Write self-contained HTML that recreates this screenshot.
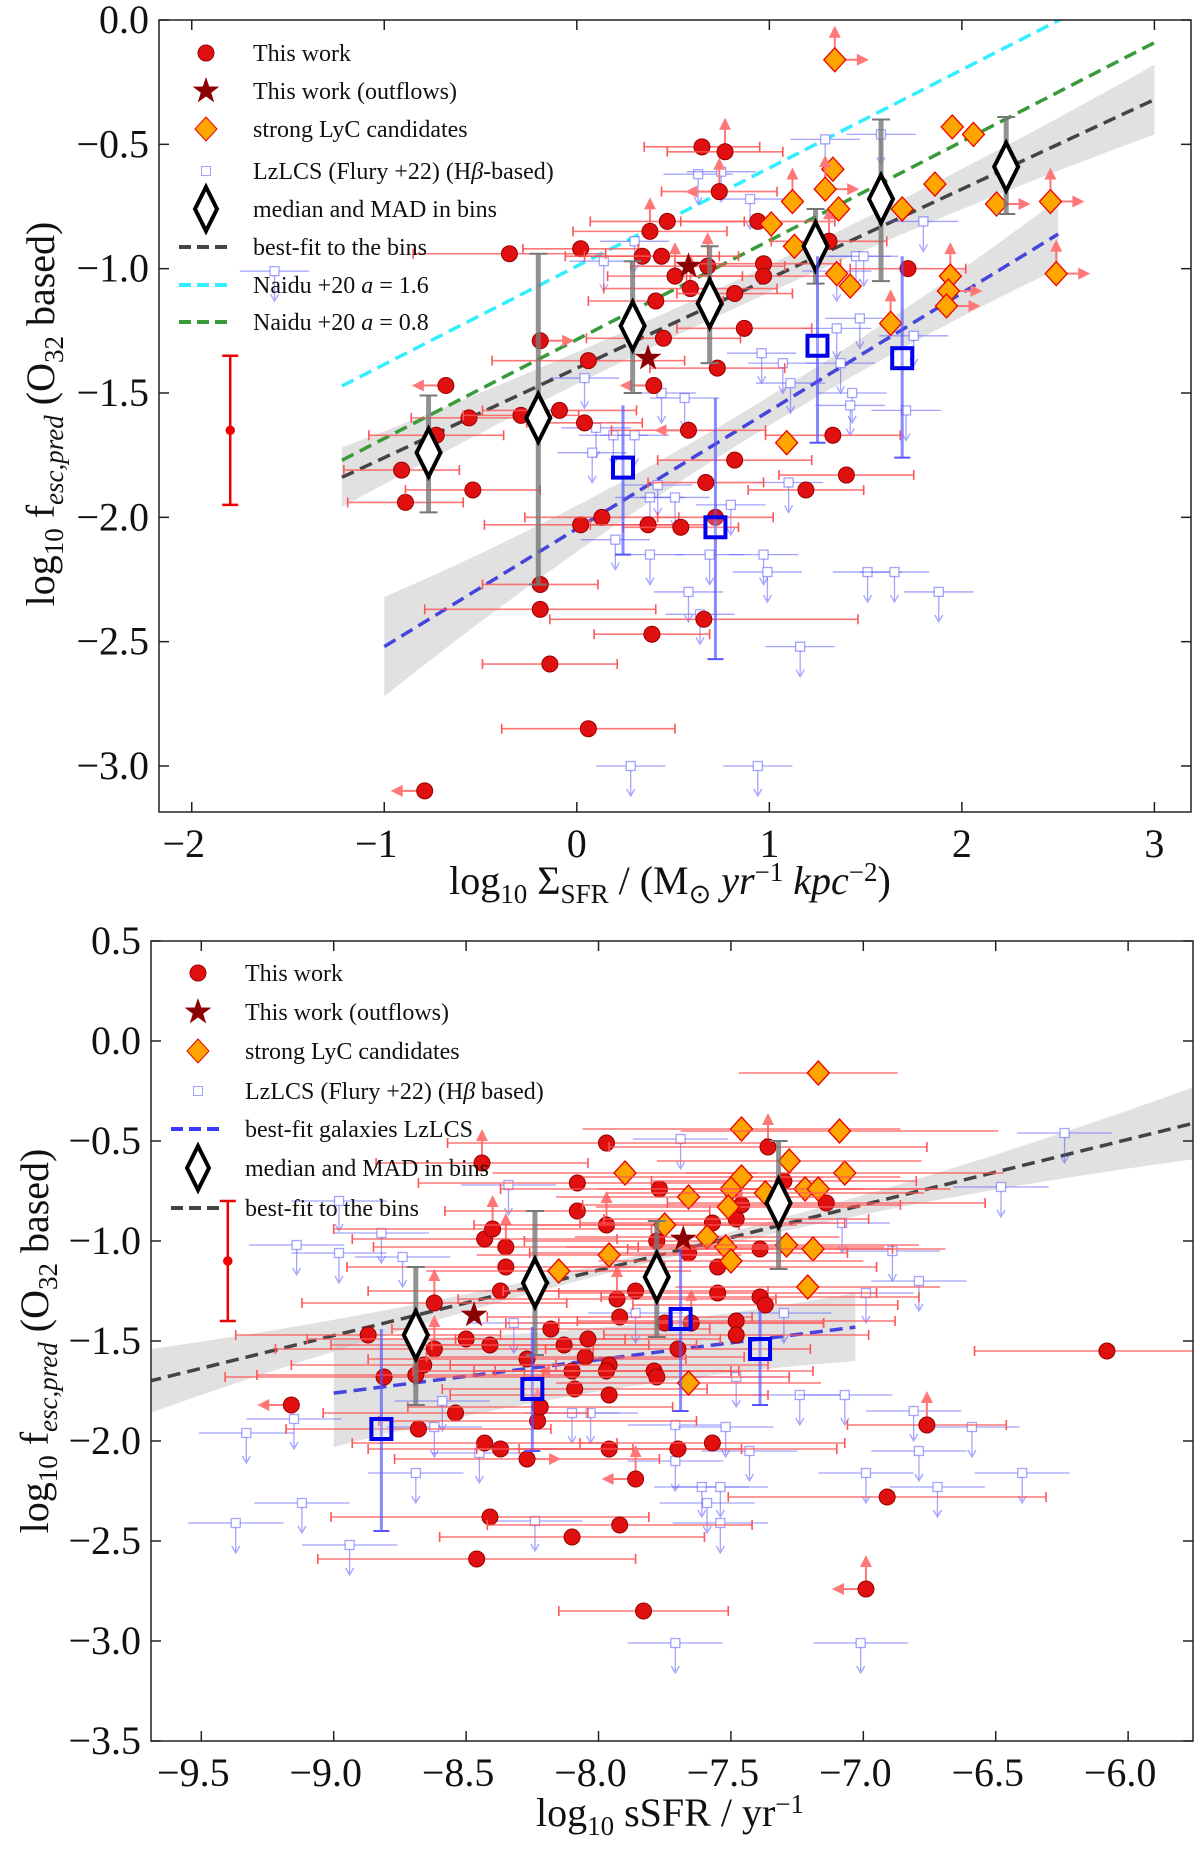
<!DOCTYPE html>
<html><head><meta charset="utf-8"><style>
html,body{margin:0;padding:0;background:#fff}
svg{display:block}
text{font-family:"Liberation Serif",serif;fill:#111}
</style></head><body>
<svg id="fig" width="1200" height="1854" viewBox="0 0 1200 1854" xmlns="http://www.w3.org/2000/svg"></svg>
<script>
// ===== TOP PANEL DATA =====
const topRedX=[-0.91,-0.89,-0.68,-0.54,-0.56,-0.73,-0.79,-0.35,-0.29,-0.19,-0.09,-0.19,-0.19,-0.14,0.02,0.06,0.04,0.02,0.13,0.06,0.38,0.47,0.34,0.44,0.51,0.59,0.41,0.45,0.40,0.37,0.54,0.58,0.65,0.77,0.74,0.68,0.82,0.87,0.73,0.82,0.67,0.72,0.66,0.39,0.94,0.97,0.97,1.31,1.72,1.33,1.40,1.19];
const topRedY=[-1.81,-1.94,-1.47,-1.89,-1.60,-1.67,-3.10,-0.94,-1.59,-1.29,-1.57,-2.27,-2.37,-2.59,-0.92,-1.37,-1.62,-2.03,-2.00,-2.85,-0.85,-0.81,-0.95,-0.95,-1.03,-1.08,-1.13,-1.28,-1.47,-2.03,-2.04,-1.65,-0.51,-0.53,-0.69,-0.99,-1.10,-1.24,-1.40,-1.77,-1.86,-2.00,-2.41,-2.47,-0.81,-0.98,-1.03,-0.89,-1.00,-1.67,-1.83,-1.89];
const topRedXerr=[0.3,0.3,0,0.35,0.3,0.35,0,0.5,0.3,0,0.4,0.3,0.6,0.35,0.3,0.5,0.3,0.5,0.4,0.45,0.4,0.4,0.4,0.4,0.35,0.45,0.35,0.4,0,0.3,0.3,0.4,0.3,0.3,0.3,0.4,0.3,0.35,0.35,0.4,0.3,0.3,0.8,0.3,0.4,0.4,0.4,0.3,0.3,0.35,0.35,0.3];
const topRedFlag=['','','l','','','','l','','','r','','','','','','','','','','','u','','','','u','u','','','l','','','l','','u','ul','u','','','','','','','','','','','','u','','','','',''];
const topStarX=[0.58,0.37];
const topStarY=[-0.99,-1.36];
const topCandX=[1.34,1.95,2.06,1.33,1.12,1.29,1.36,1.01,1.86,1.69,2.18,2.46,1.13,1.35,1.42,1.94,1.93,1.92,2.49,1.63,1.09];
const topCandY=[-0.16,-0.43,-0.46,-0.60,-0.73,-0.68,-0.76,-0.82,-0.66,-0.76,-0.74,-0.73,-0.91,-1.02,-1.07,-1.03,-1.09,-1.15,-1.02,-1.22,-1.70];
const topCandFlag=['ur','','','','u','ur','','','','','r','ur','','','','u','r','r','ur','u',''];
const topLzX=[-1.57,0.14,0.30,0.63,0.75,0.90,1.29,1.58,1.80,1.45,1.49,1.35,1.47,1.35,1.75,1.37,1.07,0.96,1.11,1.43,1.42,1.71,0.56,0.44,0.04,0.10,0.19,0.30,0.08,0.42,0.38,0.51,0.80,1.10,0.20,0.38,0.69,0.97,0.99,1.51,1.65,1.88,0.58,1.16,0.28,0.94,0.64];
const topLzY=[-1.01,-0.97,-0.89,-0.62,-0.61,-0.72,-0.48,-0.46,-0.81,-0.95,-0.95,-1.01,-1.20,-1.24,-1.27,-1.38,-1.38,-1.34,-1.46,-1.50,-1.55,-1.57,-1.52,-1.50,-1.44,-1.64,-1.67,-1.67,-1.74,-1.87,-1.92,-1.92,-1.95,-1.86,-2.09,-2.15,-2.15,-2.15,-2.22,-2.22,-2.22,-2.30,-2.30,-2.52,-3.00,-3.00,-2.39];
const topBinX=[-0.77,-0.20,0.29,0.69,1.24,1.58,2.23];
const topBinY=[-1.74,-1.60,-1.23,-1.14,-0.91,-0.72,-0.59];
const topBinLo=[-1.98,-2.27,-1.50,-1.38,-1.06,-1.05,-0.78];
const topBinHi=[-1.51,-0.94,-0.97,-0.91,-0.76,-0.40,-0.39];
const topSqX=[0.24,0.72,1.25,1.69];
const topSqY=[-1.80,-2.04,-1.31,-1.36];
const topSqLo=[-2.15,-2.57,-1.70,-1.76];
const topSqHi=[-1.55,-1.52,-0.95,-0.95];
const topFitBins=[0.36,-1.40];
const topFitLz=[0.474,-2.046];
const topNaidu16=[0.395,-0.99];
const topNaidu08=[0.398,-1.285];
const topXTicks=[-2,-1,0,1,2,3];
const topYTicks=[0.0,-0.5,-1.0,-1.5,-2.0,-2.5,-3.0];

// ===== BOTTOM PANEL DATA =====
const botRedX=[-9.16,-8.87,-8.81,-8.68,-8.69,-8.66,-8.62,-8.62,-8.54,-8.50,-8.43,-8.37,-8.41,-8.37,-8.35,-8.35,-8.43,-8.40,-8.44,-8.27,-8.27,-8.23,-8.22,-8.18,-8.13,-8.10,-8.09,-8.08,-8.08,-8.05,-8.04,-7.97,-7.97,-7.96,-7.97,-7.96,-7.96,-7.93,-7.92,-7.86,-7.79,-7.78,-7.77,-7.78,-7.75,-7.70,-7.70,-7.65,-7.66,-7.57,-7.55,-7.57,-7.55,-7.48,-7.48,-7.48,-7.46,-7.39,-7.39,-7.37,-7.36,-7.30,-7.14,-6.76,-6.91,-6.99,-6.08,-8.41,-8.46,-8.10,-7.92,-7.83,-7.86];
const botRedY=[-1.82,-1.47,-1.68,-1.94,-1.67,-1.62,-1.54,-1.31,-1.86,-1.49,-2.01,-2.04,-1.52,-1.25,-1.13,-1.03,-0.99,-0.94,-0.61,-1.59,-2.09,-1.90,-1.83,-1.44,-1.52,-1.65,-1.74,-0.71,-0.85,-1.58,-1.49,-0.51,-0.92,-1.62,-1.65,-1.77,-2.04,-1.29,-1.38,-1.25,-1.65,-1.68,-0.74,-1.00,-1.41,-1.54,-2.04,-1.41,-1.06,-0.91,-1.26,-2.01,-1.13,-0.89,-1.40,-1.47,-0.82,-1.04,-1.28,-1.32,-0.53,-0.70,-0.81,-1.92,-2.28,-2.74,-1.55,-2.38,-2.59,-2.48,-2.42,-2.85,-2.19];
const botRedXerr=[0,0.5,0.6,0.5,0.6,0.5,0.6,0.5,0.5,0.6,0.5,0.5,0.6,0.5,0.6,0.5,0.5,0.6,0.4,0.6,0.5,0.6,0.5,0.6,0.5,0.6,0.5,0.6,0.5,0.6,0.5,0.6,0.5,0.6,0.5,0.6,0.5,0.6,0.5,0.5,0.6,0.5,0.6,0.5,0.6,0.5,0.6,0.5,0.6,0.5,0.6,0.5,0.6,0.5,0.6,0.5,0.6,0.5,0.6,0.5,0.6,0.5,0.6,0.3,0.6,0,0.5,0.6,0.6,0.5,0.5,0.32,0];
const botRedFlag=['l','','','','','','u','u','','','','','','','','u','','u','u','','r','u','','','','l','','','','','','','u','','','','','u','','','','','','','','','','u','','','','','','u','','','u','','','','u','','','u','','ul','','','','','','','ul'];
const botStarX=[-8.47,-7.68];
const botStarY=[-1.37,-0.99];
const botCandX=[-7.17,-7.46,-7.09,-7.90,-7.07,-7.28,-7.46,-7.50,-7.22,-7.17,-7.66,-7.37,-7.51,-7.75,-7.59,-7.52,-7.29,-7.19,-7.96,-7.50,-8.15,-7.21,-7.66];
const botCandY=[-0.16,-0.44,-0.45,-0.66,-0.66,-0.60,-0.68,-0.74,-0.74,-0.74,-0.78,-0.76,-0.83,-0.92,-0.98,-1.03,-1.02,-1.04,-1.07,-1.10,-1.15,-1.23,-1.71];
const botCandXerr=[0.3,0.6,0.6,0.5,0.6,0.5,0.6,0.5,0.5,0.5,0.5,0.6,0.5,0.5,0.5,0.6,0.5,0.5,0.5,0.5,0.5,0.5,0.5];
const botLzX=[-9.14,-8.98,-8.98,-8.82,-8.74,-9.33,-9.37,-9.12,-8.94,-9.15,-8.69,-8.59,-8.62,-8.45,-8.34,-8.24,-8.10,-8.03,-7.86,-7.71,-7.71,-7.61,-7.59,-7.54,-7.54,-7.52,-7.43,-7.48,-7.30,-7.24,-7.07,-6.99,-6.99,-7.08,-6.89,-6.79,-6.81,-6.79,-6.72,-6.59,-6.40,-6.48,-6.24,-7.71,-7.01,-7.69,-8.32];
const botLzY=[-1.02,-1.06,-0.80,-0.96,-1.08,-1.96,-2.41,-2.31,-2.52,-1.89,-2.16,-1.80,-1.93,-2.06,-0.72,-2.40,-1.86,-1.86,-1.36,-2.10,-1.92,-2.23,-2.31,-2.23,-2.41,-1.93,-2.05,-1.68,-1.36,-1.77,-1.77,-2.16,-1.26,-0.91,-1.05,-1.20,-1.85,-2.05,-2.23,-1.93,-2.16,-0.73,-0.46,-3.01,-3.01,-0.49,-1.41];
const botBinX=[-8.69,-8.24,-7.78,-7.32];
const botBinY=[-1.47,-1.21,-1.18,-0.81];
const botBinLo=[-1.82,-1.57,-1.48,-1.14];
const botBinHi=[-1.13,-0.85,-0.90,-0.50];
const botSqX=[-8.82,-8.25,-7.69,-7.39];
const botSqY=[-1.94,-1.74,-1.39,-1.54];
const botSqLo=[-2.45,-2.05,-1.85,-1.82];
const botSqHi=[-1.44,-1.43,-1.04,-1.35];
const botFitBins=[0.327,1.47];
const botFitLz=[0.1675,-0.253];
const botXTicks=[-9.5,-9.0,-8.5,-8.0,-7.5,-7.0,-6.5,-6.0];
const botYTicks=[0.5,0.0,-0.5,-1.0,-1.5,-2.0,-2.5,-3.0,-3.5];

const NS="http://www.w3.org/2000/svg";
const svg=document.getElementById('fig');
function mk(tag,at,par){const e=document.createElementNS(NS,tag);for(const k in at)e.setAttribute(k,at[k]);(par||svg).appendChild(e);return e;}
function fmt(v){return (v<0?'\u2212':'')+Math.abs(v).toFixed(1);}

function panel(P){
  const g=mk('g',{});
  
  
  const X=v=>P.L+(v-P.x0)/(P.x1-P.x0)*(P.R-P.L);
  const Y=v=>P.T+(P.y0-v)/(P.y0-P.y1)*(P.B-P.T);
  const cp=mk('clipPath',{id:'cp'+P.id},g);
  mk('rect',{x:P.L,y:P.T,width:P.R-P.L,height:P.B-P.T},cp);
  const pg=mk('g',{'clip-path':'url(#cp'+P.id+')'},g);
  P.bands.forEach((b,i)=>{
    const [xa,xm,xb,f,wa,wm,wb]=b;
    const upper=[],lower=[];
    for(let k=0;k<=20;k++){const x=xa+(xb-xa)*k/20;const t=k/20;
      const w=(1-t)*(1-t)*wa+2*t*(1-t)*wm+t*t*wb;const y=f[0]*x+f[1];
      upper.push(X(x)+','+Y(y+w));lower.unshift(X(x)+','+Y(y-w));}
    const p=mk('polygon',{points:upper.concat(lower).join(' '),fill:'#bdbdbd','fill-opacity':0.45},pg);
    
    
  });
  P.lines.forEach(l=>{
    const [f,xa,xb,col,nm]=l;
    const e=mk('line',{x1:X(xa),y1:Y(f[0]*xa+f[1]),x2:X(xb),y2:Y(f[0]*xb+f[1]),stroke:col,'stroke-width':3.5,'stroke-dasharray':'13,7'},pg);
    
    
  });
  P.lzX.forEach((x,i)=>{
    const y=P.lzY[i];const cx=X(x),cy=Y(y);const gg=mk('g',{stroke:'#5a5aff','stroke-opacity':0.55,fill:'none','stroke-width':1.3},pg);
    
    
    const dx=(P.R-P.L)/(P.x1-P.x0)*0.18;
    mk('line',{x1:cx-dx,y1:cy,x2:cx+dx,y2:cy},gg);
    mk('line',{x1:cx,y1:cy,x2:cx,y2:cy+28},gg);
    mk('path',{d:`M${cx-4},${cy+23} L${cx},${cy+30} L${cx+4},${cy+23}`},gg);
    mk('rect',{x:cx-4.5,y:cy-4.5,width:9,height:9,fill:'#fff'},gg);
  });
  const pxu=(P.R-P.L)/(P.x1-P.x0);
  function arrows(gg,cx,cy,flag,col){
    if(!flag)return;
    if(flag.includes('u')){mk('line',{x1:cx,y1:cy,x2:cx,y2:cy-24,stroke:col,'stroke-width':2},gg);mk('polygon',{points:`${cx-6},${cy-22} ${cx+6},${cy-22} ${cx},${cy-34}`,fill:col},gg);}
    if(flag.includes('l')){mk('line',{x1:cx,y1:cy,x2:cx-24,y2:cy,stroke:col,'stroke-width':2},gg);mk('polygon',{points:`${cx-22},${cy-6} ${cx-22},${cy+6} ${cx-34},${cy}`,fill:col},gg);}
    if(flag.includes('r')){mk('line',{x1:cx,y1:cy,x2:cx+24,y2:cy,stroke:col,'stroke-width':2},gg);mk('polygon',{points:`${cx+22},${cy-6} ${cx+22},${cy+6} ${cx+34},${cy}`,fill:col},gg);}
  }
  P.redX.forEach((x,i)=>{
    const y=P.redY[i];const cx=X(x),cy=Y(y);const gg=mk('g',{},pg);
    
    
    const e=P.redXerr[i]*pxu;
    if(e>0){mk('line',{x1:cx-e,y1:cy,x2:cx+e,y2:cy,stroke:'#f55','stroke-opacity':0.8,'stroke-width':1.6},gg);
      mk('line',{x1:cx-e,y1:cy-5,x2:cx-e,y2:cy+5,stroke:'#f55','stroke-width':1.6},gg);
      mk('line',{x1:cx+e,y1:cy-5,x2:cx+e,y2:cy+5,stroke:'#f55','stroke-width':1.6},gg);}
    arrows(gg,cx,cy,P.redFlag[i],'#f77');
    mk('circle',{cx:cx,cy:cy,r:8,fill:'#e01010',stroke:'#900','stroke-width':1},gg);
  });
  P.candX.forEach((x,i)=>{
    const y=P.candY[i];const cx=X(x),cy=Y(y);const gg=mk('g',{},pg);
    
    
    if(P.candXerr){const e=P.candXerr[i]*pxu;mk('line',{x1:cx-e,y1:cy,x2:cx+e,y2:cy,stroke:'#f55','stroke-opacity':0.8,'stroke-width':1.6},gg);}
    if(P.candFlag)arrows(gg,cx,cy,P.candFlag[i],'#f77');
    mk('polygon',{points:`${cx},${cy-12} ${cx+11},${cy} ${cx},${cy+12} ${cx-11},${cy}`,fill:'#ffa500',stroke:'#e00','stroke-width':1.3},gg);
  });
  P.starX.forEach((x,i)=>{
    const cx=X(x),cy=Y(P.starY[i]);let d='';
    for(let k=0;k<10;k++){const r=k%2?5.5:14;const a=-Math.PI/2+k*Math.PI/5;d+=(k?'L':'M')+(cx+r*Math.cos(a)).toFixed(1)+','+(cy+r*Math.sin(a)).toFixed(1);}
    const s=mk('path',{d:d+'Z',fill:'#8b0000'},pg);
    
    
  });
  P.binX.forEach((x,i)=>{
    const cx=X(x),cy=Y(P.binY[i]);const gg=mk('g',{},pg);
    
    
    mk('line',{x1:cx,y1:Y(P.binLo[i]),x2:cx,y2:Y(P.binHi[i]),stroke:'#777','stroke-width':5,'stroke-opacity':0.8},gg);
    mk('line',{x1:cx-9,y1:Y(P.binLo[i]),x2:cx+9,y2:Y(P.binLo[i]),stroke:'#777','stroke-width':2},gg);
    mk('line',{x1:cx-9,y1:Y(P.binHi[i]),x2:cx+9,y2:Y(P.binHi[i]),stroke:'#777','stroke-width':2},gg);
    mk('polygon',{points:`${cx},${cy-24} ${cx+12},${cy} ${cx},${cy+24} ${cx-12},${cy}`,fill:'#fff',stroke:'#000','stroke-width':4},gg);
  });
  P.sqX.forEach((x,i)=>{
    const cx=X(x),cy=Y(P.sqY[i]);const gg=mk('g',{},pg);
    
    
    mk('line',{x1:cx,y1:Y(P.sqLo[i]),x2:cx,y2:Y(P.sqHi[i]),stroke:'#55f','stroke-width':3,'stroke-opacity':0.7},gg);
    mk('line',{x1:cx-8,y1:Y(P.sqLo[i]),x2:cx+8,y2:Y(P.sqLo[i]),stroke:'#55f','stroke-width':2},gg);
    mk('rect',{x:cx-10,y:cy-10,width:20,height:20,fill:'#fff','fill-opacity':0.2,stroke:'#0000ee','stroke-width':4},gg);
  });
  const rb=P.refBar;const rg=mk('g',{stroke:'#e00','stroke-width':2.5},g);
  
  
  mk('line',{x1:X(rb[0]),y1:Y(rb[2]),x2:X(rb[0]),y2:Y(rb[3])},rg);
  mk('line',{x1:X(rb[0])-8,y1:Y(rb[2]),x2:X(rb[0])+8,y2:Y(rb[2])},rg);
  mk('line',{x1:X(rb[0])-8,y1:Y(rb[3]),x2:X(rb[0])+8,y2:Y(rb[3])},rg);
  mk('circle',{cx:X(rb[0]),cy:Y(rb[1]),r:3.5,fill:'#e00'},rg);
  const fr=mk('rect',{x:P.L,y:P.T,width:P.R-P.L,height:P.B-P.T,fill:'none',stroke:'#222','stroke-width':1.5},g);
  
  
  const xa=mk('g',{},g);
  
  
  P.xt.forEach(v=>{const x=X(v);
    mk('line',{x1:x,y1:P.B,x2:x,y2:P.B-10,stroke:'#222','stroke-width':1.5},xa);
    mk('line',{x1:x,y1:P.T,x2:x,y2:P.T+10,stroke:'#222','stroke-width':1.5},xa);
    const t=mk('text',{x:x-(v<0?8:0),y:P.B+45,'text-anchor':'middle','font-size':40},xa);
    t.textContent=P.xfmt(v);
    
    });
  const ya=mk('g',{},g);
  
  
  P.yt.forEach(v=>{const y=Y(v);
    mk('line',{x1:P.L,y1:y,x2:P.L+10,y2:y,stroke:'#222','stroke-width':1.5},ya);
    mk('line',{x1:P.R,y1:y,x2:P.R-10,y2:y,stroke:'#222','stroke-width':1.5},ya);
    const t=mk('text',{x:P.L-10,y:y+13,'text-anchor':'end','font-size':40},ya);
    t.textContent=fmt(v);
    
    });
}

panel({id:1,name:'top-panel',L:159,R:1191,T:20,B:812,x0:-2.17,x1:3.19,y0:0,y1:-3.185,
  redX:topRedX,redY:topRedY,redXerr:topRedXerr,redFlag:topRedFlag,starX:topStarX,starY:topStarY,
  candX:topCandX,candY:topCandY,candFlag:topCandFlag,lzX:topLzX,lzY:topLzY,
  binX:topBinX,binY:topBinY,binLo:topBinLo,binHi:topBinHi,sqX:topSqX,sqY:topSqY,sqLo:topSqLo,sqHi:topSqHi,
  bands:[[-1.22,0.9,3,topFitBins,0.12,-0.02,0.14],[-1,0.8,2.5,topFitLz,0.2,-0.05,0.14]],
  lines:[[topFitBins,-1.22,3,'#444','best-fit-bins-line'],[topFitLz,-1,2.5,'#4545dd','best-fit-lzlcs-line'],[topNaidu16,-1.22,2.6,'#33eeff','naidu-a16-line'],[topNaidu08,-1.22,3,'#3a9a3a','naidu-a08-line']],
  refBar:[-1.8,-1.65,-1.35,-1.95],xt:topXTicks,yt:topYTicks,xfmt:v=>(v<0?'\u2212':'')+Math.abs(v)});

panel({id:2,name:'bottom-panel',L:151,R:1193,T:941,B:1741,x0:-9.69,x1:-5.755,y0:0.5,y1:-3.5,
  redX:botRedX,redY:botRedY,redXerr:botRedXerr,redFlag:botRedFlag,starX:botStarX,starY:botStarY,
  candX:botCandX,candY:botCandY,candXerr:botCandXerr,lzX:botLzX,lzY:botLzY,
  binX:botBinX,binY:botBinY,binLo:botBinLo,binHi:botBinHi,sqX:botSqX,sqY:botSqY,sqLo:botSqLo,sqHi:botSqHi,
  bands:[[-9.7,-8,-5.755,botFitBins,0.16,-0.12,0.18],[-9.0,-8,-7.03,botFitLz,0.27,0.1,0.17]],
  lines:[[botFitBins,-9.7,-5.755,'#444','best-fit-bins-line'],[botFitLz,-9.0,-7.03,'#4545dd','best-fit-lzlcs-line']],
  refBar:[-9.4,-1.1,-0.8,-1.4],xt:botXTicks,yt:botYTicks,xfmt:fmt});

function legend(items,x0,tx,ys,nm){
  const g=mk('g',{});
  
  
  items.forEach((it,i)=>{
    const y=ys[i];const e=mk('g',{},g);
    
    
    const k=it[0];
    if(k==='dot')mk('circle',{cx:x0,cy:y,r:8,fill:'#e01010',stroke:'#900'},e);
    if(k==='star'){let d='';for(let j=0;j<10;j++){const r=j%2?5.5:14;const a=-Math.PI/2+j*Math.PI/5;d+=(j?'L':'M')+(x0+r*Math.cos(a))+','+(y+r*Math.sin(a));}mk('path',{d:d+'Z',fill:'#8b0000'},e);}
    if(k==='dia')mk('polygon',{points:`${x0},${y-12} ${x0+11},${y} ${x0},${y+12} ${x0-11},${y}`,fill:'#ffa500',stroke:'#e00'},e);
    if(k==='sq')mk('rect',{x:x0-4.5,y:y-4.5,width:9,height:9,fill:'none',stroke:'#66f','stroke-opacity':0.6},e);
    if(k==='big')mk('polygon',{points:`${x0},${y-22} ${x0+11},${y} ${x0},${y+22} ${x0-11},${y}`,fill:'#fff',stroke:'#000','stroke-width':4},e);
    if(k.startsWith('#'))mk('line',{x1:x0-27,y1:y,x2:x0+27,y2:y,stroke:k,'stroke-width':4,'stroke-dasharray':'12,6'},e);
    const t=mk('text',{x:tx,y:y+8,'font-size':24},e);
    t.innerHTML=it[1];
  });
}
legend([['dot','This work'],['star','This work (outflows)'],['dia','strong LyC candidates'],['sq','LzLCS (Flury +22) (H<tspan font-style="italic">β</tspan>-based)'],['big','median and MAD in bins'],['#444','best-fit to the bins'],['#33eeff','Naidu +20 <tspan font-style="italic">a</tspan> = 1.6'],['#3a9a3a','Naidu +20 <tspan font-style="italic">a</tspan> = 0.8']],
  206,253,[53,91,129,171,209,247,285,322],'top-legend');
legend([['dot','This work'],['star','This work (outflows)'],['dia','strong LyC candidates'],['sq','LzLCS (Flury +22) (H<tspan font-style="italic">β</tspan> based)'],['#3a3aff','best-fit galaxies LzLCS'],['big','median and MAD in bins'],['#444','best-fit to the bins']],
  198,245,[973,1012,1051,1091,1129,1168,1208],'bottom-legend');

function title(txt,x,y,rot,nm){const t=mk('text',{x:x,y:y,'text-anchor':'middle','font-size':40,transform:rot?`rotate(-90 ${x} ${y})`:''});t.innerHTML=txt;
  
  }
title('log<tspan font-size="27" dy="9">10</tspan><tspan dy="-9"> f</tspan><tspan font-size="27" font-style="italic" dy="9">esc,pred</tspan><tspan dy="-9"> (O</tspan><tspan font-size="27" dy="9">32</tspan><tspan dy="-9"> based)</tspan>',54,414,true,'top-y-axis-title');
title('log<tspan font-size="27" dy="9">10</tspan><tspan dy="-9"> Σ</tspan><tspan font-size="27" dy="9">SFR</tspan><tspan dy="-9"> / (M</tspan><tspan font-size="27" dy="9">⊙</tspan><tspan dy="-9" font-style="italic"> yr</tspan><tspan font-size="27" dy="-13">−1</tspan><tspan dy="13" font-style="italic"> kpc</tspan><tspan font-size="27" dy="-13">−2</tspan><tspan dy="13">)</tspan>',670,894,false,'top-x-axis-title');
title('log<tspan font-size="27" dy="9">10</tspan><tspan dy="-9"> f</tspan><tspan font-size="27" font-style="italic" dy="9">esc,pred</tspan><tspan dy="-9"> (O</tspan><tspan font-size="27" dy="9">32</tspan><tspan dy="-9"> based)</tspan>',48,1341,true,'bottom-y-axis-title');
title('log<tspan font-size="27" dy="9">10</tspan><tspan dy="-9"> sSFR / yr</tspan><tspan font-size="27" dy="-13">−1</tspan>',670,1826,false,'bottom-x-axis-title');
</script>
</body></html>
